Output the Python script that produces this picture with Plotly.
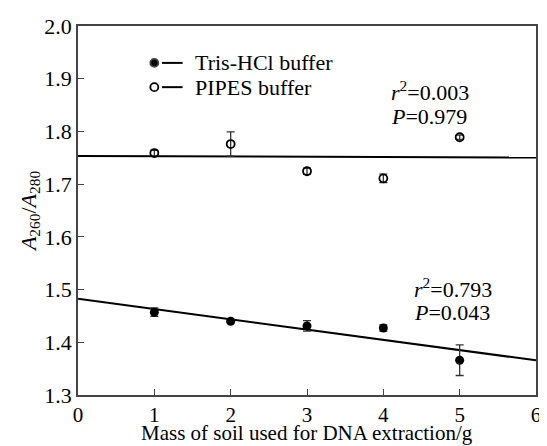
import numpy as np
import plotly.graph_objects as go

mass = [1, 2, 3, 4, 5]
tris = [1.457, 1.440, 1.431, 1.427, 1.366]
tris_err = [0.008, 0.003, 0.010, 0.006, 0.029]
pipes = [1.759, 1.776, 1.7245, 1.711, 1.789]
pipes_err = [0.005, 0.023, 0.006, 0.008, 0.004]
x_ticks = [0, 1, 2, 3, 4, 5, 6]
y_ticks = [1.3, 1.4, 1.5, 1.6, 1.7, 1.8, 1.9, 2.0]

FONT = "Times New Roman"
FS = 22
fit_x = np.array([0, 6])
fig = go.Figure()
for ys in (tris, pipes):
    k, b = np.polyfit(mass, ys, 1)
    fig.add_trace(go.Scatter(x=fit_x, y=k * fit_x + b, mode="lines",
                             line=dict(color="black", width=2), showlegend=False, hoverinfo="skip"))

fig.add_trace(go.Scatter(x=mass, y=tris, mode="markers",
                         marker=dict(symbol="circle", size=9, color="black"),
                         error_y=dict(type="data", array=tris_err, color="#333", thickness=1.3, width=4),
                         name="Tris-HCl buffer"))
fig.add_trace(go.Scatter(x=mass, y=pipes, mode="markers",
                         marker=dict(symbol="circle-open", size=8, color="black", line=dict(width=1.8)),
                         error_y=dict(type="data", array=pipes_err, color="#333", thickness=1.3, width=4),
                         name="PIPES buffer"))

leg = [("circle", "Tris-HCl buffer", 1.930), ("circle-open", "PIPES buffer", 1.884)]
for sym, txt, yv in leg:
    fig.add_trace(go.Scatter(x=[1.0], y=[yv], mode="markers",
                             marker=dict(symbol=sym, size=8, color="black", line=dict(width=1.8)),
                             showlegend=False, hoverinfo="skip"))
    fig.add_shape(type="line", x0=1.1, x1=1.37, y0=yv, y1=yv, line=dict(color="black", width=2))
    fig.add_annotation(x=1.50, y=yv, text=txt, showarrow=False, xanchor="left", yanchor="middle",
                       font=dict(family=FONT, size=FS, color="black"))

ann = [("<i>r</i><sup>2</sup>=0.003", 4.08, 1.877), ("<i>P</i>=0.979", 4.08, 1.829),
       ("<i>r</i><sup>2</sup>=0.793", 4.38, 1.503), ("<i>P</i>=0.043", 4.38, 1.457)]
for t, xv, yv in ann:
    fig.add_annotation(x=xv, y=yv, text=t, showarrow=False, xanchor="left", yanchor="middle",
                       font=dict(family=FONT, size=FS, color="black"))

fig.add_annotation(x=0.5, xref="paper", y=-0.103, yref="paper", showarrow=False,
                   text="Mass of soil used for DNA extraction/g", xanchor="center", yanchor="middle",
                   font=dict(family=FONT, size=21, color="black"))

axis_common = dict(showline=True, linecolor="#444", linewidth=1.5, mirror=True, ticks="inside",
                   ticklen=6, tickcolor="#444", tickwidth=1.3, showgrid=False, zeroline=False)
fig.update_xaxes(range=[0, 6], tickvals=x_ticks, ticklabelstandoff=0,
                 tickfont=dict(family=FONT, size=21, color="black"), **axis_common)
fig.update_yaxes(range=[1.3, 2.0], tickvals=y_ticks, tickformat=".1f",
                 tickfont=dict(family=FONT, size=FS, color="black"), **axis_common,
                 title=dict(text="<i>A</i><sub>260</sub>/<i>A</i><sub>280</sub>", standoff=2,
                            font=dict(family=FONT, size=FS, color="black")))
fig.update_layout(width=539, height=438, margin=dict(l=70, r=6, t=16, b=51),
                  plot_bgcolor="white", paper_bgcolor="white", showlegend=False)
fig.write_html("out.html")
